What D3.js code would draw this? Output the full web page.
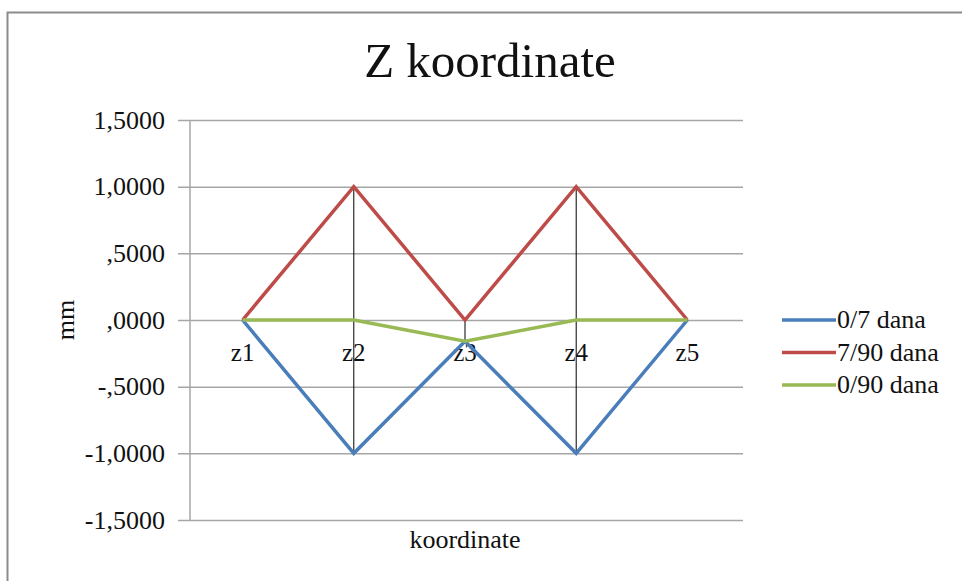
<!DOCTYPE html>
<html>
<head>
<meta charset="utf-8">
<script src="https://d3js.org/d3.v7.min.js"></script>
<style>
  body { margin: 0; background: #fff; }
</style>
</head>
<body>
<div id="chart"></div>
<script>
// data
const categories = ['z1', 'z2', 'z3', 'z4', 'z5'];
const seriesNames = ['0/7 dana', '7/90 dana', '0/90 dana'];
const seriesColors = ['#4a7ebb', '#be4b48', '#98b954'];
const values0_7 = [0, -1, -0.16, -1, 0];
const values7_90 = [0, 1, 0, 1, 0];
const values0_90 = [0, 0, -0.16, 0, 0];
const yTicks = [-1.5, -1, -0.5, 0, 0.5, 1, 1.5];

const FONT = "'Liberation Serif', 'Times New Roman', serif";

const series = [values0_7, values7_90, values0_90].map((vals, i) => ({
  name: seriesNames[i], color: seriesColors[i], values: vals
}));

const fullW = 962, fullH = 581;
const margin = { top: 120, right: 219, bottom: 61, left: 187 };
const w = fullW - margin.left - margin.right;
const h = fullH - margin.top - margin.bottom;

const svg = d3.select('#chart').append('svg')
  .attr('width', fullW).attr('height', fullH);

// chart frame (runs off the right/bottom edge like the reference)
svg.append('rect')
  .attr('x', 7.5).attr('y', 12.5).attr('width', 980).attr('height', 600)
  .attr('fill', '#fff').attr('stroke', '#8c8c8c').attr('stroke-width', 2);

const g = svg.append('g').attr('transform', `translate(${margin.left},${margin.top})`);

const x = d3.scaleBand().domain(categories).range([0, w]);
const y = d3.scaleLinear().domain([-1.5, 1.5]).range([h, 0]);

// Excel style: comma decimal, no leading zero below 1
const fmt = v => {
  const s = Math.abs(v).toFixed(4).replace('.', ',');
  const body = Math.abs(v) < 1 ? s.slice(1) : s;
  return (v < 0 ? '-' : '') + body;
};

// gridlines + tick labels
const yAxis = g.append('g')
  .call(d3.axisLeft(y).tickValues(yTicks).tickSize(-w - 9).tickPadding(13).tickFormat(fmt))
  .attr('transform', 'translate(-9,0)');
yAxis.select('.domain').remove();
yAxis.selectAll('.tick line').attr('stroke', '#a6a6a6').attr('stroke-width', 1.5).attr('x1', 0).attr('x2', w + 9);
yAxis.selectAll('.tick text')
  .style('font-family', FONT).style('font-size', '26px').attr('fill', '#111');

// vertical axis line
g.append('line')
  .attr('x1', 3).attr('x2', 3).attr('y1', 0).attr('y2', h)
  .attr('stroke', '#a6a6a6').attr('stroke-width', 1.5);

// high-low lines
g.selectAll('.hilo').data(categories).join('line')
  .attr('class', 'hilo')
  .attr('x1', d => x(d) + x.bandwidth() / 2)
  .attr('x2', d => x(d) + x.bandwidth() / 2)
  .attr('y1', (d, i) => y(d3.max(series, s => s.values[i])))
  .attr('y2', (d, i) => y(d3.min(series, s => s.values[i])))
  .attr('stroke', '#000').attr('stroke-width', 1);

// category labels at the zero line
g.selectAll('.cat').data(categories).join('text')
  .attr('class', 'cat')
  .attr('x', d => x(d) + x.bandwidth() / 2)
  .attr('y', y(0) + 41)
  .attr('text-anchor', 'middle')
  .style('font-family', FONT).style('font-size', '25px')
  .attr('fill', '#111')
  .text(d => d);

// series lines
const line = d3.line()
  .x((d, i) => x(categories[i]) + x.bandwidth() / 2)
  .y(d => y(d));

g.selectAll('.series').data(series).join('path')
  .attr('class', 'series')
  .attr('d', d => line(d.values))
  .attr('fill', 'none')
  .attr('stroke', d => d.color)
  .attr('stroke-width', 3.5)
  .attr('stroke-linejoin', 'miter');

// title
svg.append('text')
  .attr('x', 490).attr('y', 77)
  .attr('text-anchor', 'middle')
  .style('font-family', FONT).style('font-size', '49px')
  .attr('fill', '#111')
  .text('Z koordinate');

// axis titles
svg.append('text')
  .attr('transform', `translate(74,${margin.top + y(0)}) rotate(-90)`)
  .attr('text-anchor', 'middle')
  .style('font-family', FONT).style('font-size', '26px')
  .attr('fill', '#111')
  .text('mm');

svg.append('text')
  .attr('x', 465).attr('y', 548)
  .attr('text-anchor', 'middle')
  .style('font-family', FONT).style('font-size', '26px')
  .attr('fill', '#111')
  .text('koordinate');

// legend
const legend = svg.append('g').attr('transform', 'translate(782,320)');
const li = legend.selectAll('g').data(series).join('g')
  .attr('transform', (d, i) => `translate(0,${i * 32.5})`);
li.append('line')
  .attr('x1', 0).attr('x2', 54).attr('y1', 0).attr('y2', 0)
  .attr('stroke', d => d.color).attr('stroke-width', 3.5);
li.append('text')
  .attr('x', 55).attr('y', 8)
  .style('font-family', FONT).style('font-size', '26px')
  .attr('fill', '#111')
  .text(d => d.name);
</script>
</body>
</html>
